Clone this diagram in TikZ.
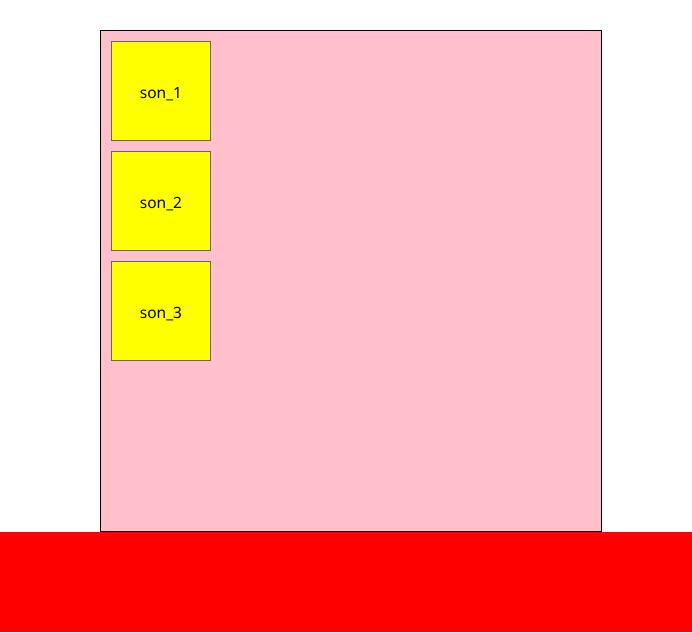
\documentclass[tikz,border=0pt]{standalone}
\usepackage{fontspec}
\setmainfont{Noto Sans}
\definecolor{pinkbg}{HTML}{FFC0CB}
\definecolor{sonborder}{HTML}{666666}
\definecolor{sonfill}{HTML}{FFFF00}
\definecolor{redband}{HTML}{FF0000}
\tikzset{
  sonbox/.style={draw=sonborder, line width=1pt, fill=sonfill, minimum width=99pt, minimum height=99pt, inner sep=0pt, font=\fontsize{15.5}{18}\selectfont, anchor=north west, text depth=0pt},
}
\begin{document}
\begin{tikzpicture}[x=1pt,y=-1pt]
\useasboundingbox (0,0) rectangle (692,632);
\fill[redband] (0,532) rectangle (692,632);
\node[draw=black, line width=1pt, fill=pinkbg, minimum width=501pt, minimum height=501pt, inner sep=0pt, anchor=north west] (parent) at (100,30) {};
\node[sonbox] (s1) at (111,41) {\raisebox{-3pt}{son\_1}};
\node[sonbox] (s2) at (111,151) {\raisebox{-3pt}{son\_2}};
\node[sonbox] (s3) at (111,261) {\raisebox{-3pt}{son\_3}};
\end{tikzpicture}
\end{document}
